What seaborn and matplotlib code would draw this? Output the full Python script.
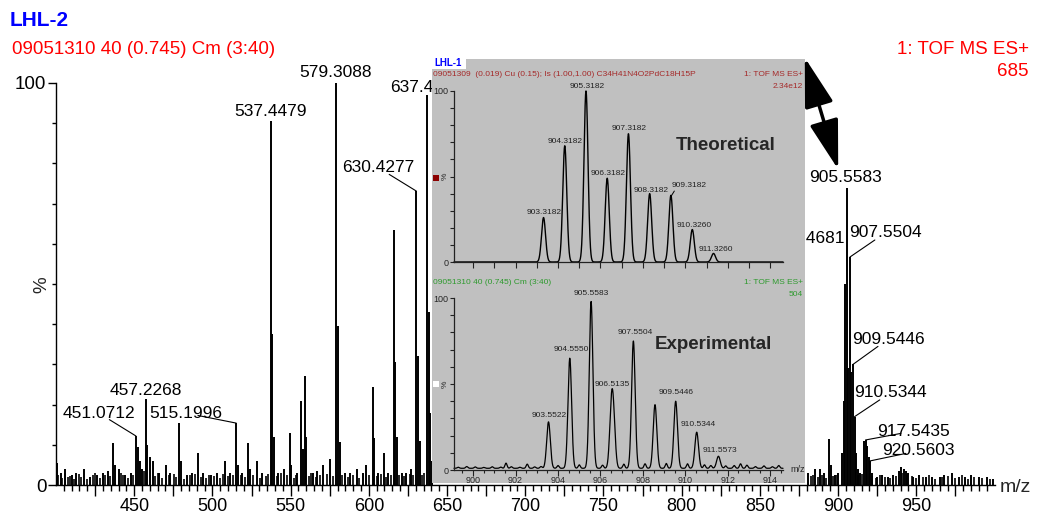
import numpy as np
import pandas as pd
import matplotlib.pyplot as plt
import seaborn as sns
from matplotlib.ticker import MultipleLocator, FixedLocator, FuncFormatter
from matplotlib.patches import Rectangle, FancyArrowPatch

sns.set_theme(style='white')
plt.rcParams['font.family'] = ['Liberation Sans', 'DejaVu Sans']

# ---- main spectrum (LHL-2), stick peaks, % intensity ----
main_mz = [400.5, 403, 406, 410, 413, 418, 422, 426, 430, 433, 436.5, 438, 440, 444, 448,
           451.07, 452.5, 454, 455, 457.23, 458, 460, 462, 466, 470.5, 473, 478.6, 480, 484,
           487, 490.5, 494, 499, 503, 508, 511, 515.2, 516.2, 519, 523, 524, 528.5, 532,
           537.45, 538.4, 539.4, 542, 546, 549.3, 550.3, 554, 556.8, 557.8, 559.1, 560.1,
           564, 567, 571, 575, 579.31, 580.3, 581.3, 585, 588, 592.5, 596, 598, 602.6,
           603.6, 606, 609.5, 612, 615.8, 616.8, 617.8, 621, 624, 627, 630.43, 631.4,
           632.4, 637.4, 638.4, 639.4, 640.4,
           881, 885, 888.5, 891, 894.3, 895.3, 898, 900, 902.5, 903.5, 904.5, 905.56, 906.5,
           907.55, 908.5, 909.54, 910.53, 911.5, 912.5, 914, 916.5, 917.54, 918.5, 919.5,
           920.56, 922, 925, 928, 932, 935, 939, 940.5, 942, 943.5, 945, 948, 952, 956,
           960, 965, 968, 973, 977, 981, 985, 990, 995, 999]
main_int = [5.5, 3, 4, 2.5, 3, 4, 2, 2.5, 3, 3.5, 10.5, 5, 4, 2.5, 3,
            12.2, 9.5, 6, 4, 21.4, 10, 7, 6, 3, 5, 3, 15.4, 6, 2.5,
            3, 8, 3, 2.5, 3, 6, 3, 15.4, 5, 3, 10.5, 4, 6, 3,
            90.5, 37.5, 12, 3, 4, 13, 5, 3, 21, 9, 27, 12,
            3, 3.5, 5, 6.5, 100, 39.5, 10.7, 3, 3, 4, 3, 5, 24.5,
            11.7, 3, 8, 3, 63.4, 30.6, 12, 3, 3, 4, 73.1, 32,
            11, 97, 43, 18, 6,
            3, 4, 4, 3, 11.4, 5, 2.5, 3, 8, 21, 50, 74, 29,
            56.7, 28, 30, 17, 8, 4, 3, 11, 11.2, 9.7, 7,
            6, 3, 2, 2.5, 2, 2.5, 3.5, 4.5, 4, 3.5, 3, 2, 2.5, 2,
            2, 2, 2.5, 3, 2, 2, 2.5, 2, 2, 1.5]

# low-level grass along the baseline
grass_mz = [401.5, 404, 405.5, 407.5, 409, 411.5, 414.5, 416, 420, 423.5, 425, 428, 431.5,
            434.5, 441.5, 443, 446, 449, 456, 463.5, 465, 468, 472, 475.5, 477, 482, 485.5,
            489, 492.5, 496, 497.5, 501, 505, 506.5, 510, 513, 518, 521, 526, 530.5, 534,
            535.5, 541, 544, 547.5, 552, 553.5, 562, 563, 566, 569, 573, 577, 583, 587, 590,
            594, 600, 605, 608, 611, 614, 619, 622.5, 626, 628.5, 634, 635,
            882.5, 884, 887, 890, 892.5, 897, 899, 913, 915, 921.5, 924, 927, 930, 933.5, 937,
            941, 944, 947, 950, 954, 958, 962, 966.5, 970, 975, 979, 983, 987, 992, 997]
grass_int = [2.5, 1.8, 3, 2, 2.2, 1.5, 2.8, 2, 1.6, 2.4, 3, 1.8, 2.6,
             2.2, 3, 2.4, 1.8, 2.6, 3.5, 2.2, 3, 1.8, 2.4, 2.8, 2, 1.6, 2.4,
             2.8, 2, 1.8, 2.6, 2.2, 1.8, 2.8, 2.2, 2.4, 2.6, 2, 2.4, 1.8, 2.2,
             2.8, 2.2, 3, 2.4, 1.8, 2.6, 2.2, 3, 2, 2.4, 2.8, 2.2, 2.6, 2, 2.4,
             1.8, 2.6, 2.2, 2.8, 2, 2.4, 2.6, 2.2, 2.8, 2.4, 2.6, 3,
             2.2, 2.6, 2, 2.4, 1.8, 2.2, 2.6, 2.4, 2.8, 2.2, 1.8, 2.4, 2, 1.8, 2.2,
             3, 2.6, 2.2, 1.8, 2, 2.4, 1.6, 2, 2.2, 1.8, 2.4, 1.6, 2, 1.8, 1.6]

# main peak labels: text, text (m/z, %), leader end (m/z, %) or None
main_labels = [
    ('579.3088', 578.7, 102.7, None),
    ('537.4479', 537.2, 92.8, None),
    ('637.4353', 613.8, 98.8, None),
    ('630.4277', 606.2, 78.9, (630.43, 73.1)),
    ('457.2268', 457.3, 23.6, None),
    ('451.0712', 427.3, 17.9, (451.07, 12.2)),
    ('515.1996', 482.9, 17.9, (515.2, 15.4)),
    ('905.5583', 904.6, 76.4, None),
    ('906.4681', 904.0, 61.4, None),
    ('907.5504', 930.1, 62.7, (907.55, 56.7)),
    ('909.5446', 932.0, 36.3, (909.54, 30.0)),
    ('910.5344', 933.3, 22.9, (910.53, 17.0)),
    ('917.5435', 948.0, 13.4, (917.54, 11.2)),
    ('920.5603', 951.2, 8.5, (920.56, 6.0)),
]

# ---- inset: theoretical (LHL-1) and experimental isotope patterns ----
theo_mz = [903.3182, 904.3182, 905.3182, 906.3182, 907.3182, 908.3182, 909.3182, 910.3260, 911.3260]
theo_int = [26, 68, 100, 49, 75, 40, 39, 19, 5]
theo_text = [(903.35, 28.7), (904.34, 70.2), (905.38, 102.9), (906.37, 51.5), (907.36, 77.8),
             (908.40, 42.1), (910.19, 45.0), (910.42, 21.1), (911.42, 7.6)]

exp_mz = [903.5522, 904.5550, 905.5583, 906.5135, 906.62, 907.5504, 908.57, 909.5446,
          910.5344, 911.5573]
exp_int = [27, 64, 97, 32, 24, 74, 37, 39, 21, 7]
exp_labels = ['903.5522', '904.5550', '905.5583', '906.5135', '907.5504', '909.5446',
              '910.5344', '911.5573']
exp_text = [(903.58, 31.4), (904.62, 69.8), (905.57, 102.9), (906.56, 49.5), (907.64, 79.7),
            (909.58, 45.0), (910.61, 26.5), (911.65, 11.6)]
exp_baseline = 1.0
noise_mz = [899.3, 899.7, 900.1, 900.5, 900.9, 901.3, 901.55, 901.8, 902.2, 902.55, 902.9,
            903.2, 904.0, 905.0, 906.1, 907.1, 908.1, 909.1, 910.1, 910.9, 911.2, 911.9,
            912.3, 912.6, 912.9, 913.3, 913.7, 914.1, 914.4]
noise_int = [0.6, 1.0, 0.8, 0.5, 0.9, 0.7, 3.0, 0.9, 0.6, 2.4, 0.8, 1.0, 1.6, 2.0, 1.8,
             2.4, 2.6, 2.8, 2.6, 2.0, 1.6, 1.4, 1.6, 2.6, 1.8, 1.0, 1.4, 0.9, 1.6]

W, H = 1037, 514
fig = plt.figure(figsize=(W / 100, H / 100), dpi=100)
fig.patch.set_facecolor('white')

def px(x, y):
    return x / W, 1 - y / H

# ---- main axes ----
ax = fig.add_axes([56 / W, 29 / H, 938.5 / W, 402 / H])
ax.set_facecolor('white')
ax.vlines(grass_mz, 0, grass_int, color='black', lw=1.2)
ax.vlines(main_mz, 0, main_int, color='black', lw=1.4)
ax.set_xlim(400, 1000)
ax.set_ylim(0, 100)
for s in ['top', 'right']:
    ax.spines[s].set_visible(False)
for s in ['left', 'bottom']:
    ax.spines[s].set_color('black')
    ax.spines[s].set_linewidth(1.0)
ax.xaxis.set_major_locator(FixedLocator(np.arange(425, 1000, 25)))
ax.xaxis.set_minor_locator(FixedLocator(np.arange(405, 1000, 5)))
ax.xaxis.set_major_formatter(FuncFormatter(lambda v, p: f'{v:.0f}' if v % 50 == 0 else ''))
ax.set_yticks([0, 100])
ax.yaxis.set_minor_locator(MultipleLocator(10))
ax.tick_params(axis='x', which='major', direction='out', length=8, width=1, colors='black',
               labelsize=13, pad=1.5, bottom=True)
ax.tick_params(axis='x', which='minor', direction='out', length=4, width=1, color='black', bottom=True)
ax.tick_params(axis='y', which='major', direction='out', length=6, width=1, colors='black',
               labelsize=13.5, pad=1, left=True)
ax.tick_params(axis='y', which='minor', direction='out', length=3, width=1, color='black', left=True)
ax.set_xlabel('')
ax.set_ylabel('')

for txt, tx, ty, lead in main_labels:
    ha = 'left' if txt.startswith('637') else ('right' if txt == '906.4681' else 'center')
    ax.text(tx, ty, txt, ha=ha, va='center', fontsize=12.5, color='black', clip_on=False)
    if lead is not None:
        ax.annotate('', xy=lead, xytext=(tx, ty), annotation_clip=False,
                    arrowprops=dict(arrowstyle='-', lw=0.8, color='black', shrinkA=9, shrinkB=0))

fig.text(*px(10, 21), 'LHL-2', color='#0000ff', fontsize=15, fontweight='bold', va='center', ha='left')
fig.text(*px(12, 50), '09051310 40 (0.745) Cm (3:40)', color='#ff0000', fontsize=13.5,
         va='center', ha='left')
fig.text(*px(1029, 50), '1: TOF MS ES+', color='#ff0000', fontsize=13.5, va='center', ha='right')
fig.text(*px(1029, 71), '685', color='#ff0000', fontsize=13.5, va='center', ha='right')
fig.text(*px(42, 285), '%', fontsize=13.5, rotation=90, va='center', ha='center')
fig.text(*px(1015, 487), 'm/z', fontsize=14, va='center', ha='center')

# ---- inset background ----
bg = fig.add_axes([432 / W, 31 / H, 373 / W, 424 / H])
bg.set_facecolor('#c0c0c0')
bg.set_xticks([])
bg.set_yticks([])
for s in bg.spines.values():
    s.set_visible(False)

xgrid = np.linspace(899.1, 914.6, 4000)

def profile(centers, heights, sigma, base=0.0):
    y = np.full_like(xgrid, base)
    for c, h in zip(centers, heights):
        y += h * np.exp(-0.5 * ((xgrid - c) / sigma) ** 2)
    return y

theo_df = pd.DataFrame({'mz': xgrid, 'pct': profile(theo_mz, theo_int, 0.095)})
exp_prof = profile(exp_mz, exp_int, 0.085, exp_baseline) + profile(noise_mz, noise_int, 0.05)
exp_df = pd.DataFrame({'mz': xgrid, 'pct': exp_prof})


def style_inset(a):
    a.set_facecolor('none')
    a.set_xlim(899.1, 914.6)
    a.set_ylim(0, 100)
    for s in ['top', 'right']:
        a.spines[s].set_visible(False)
    for s in ['left', 'bottom']:
        a.spines[s].set_color('#222222')
        a.spines[s].set_linewidth(0.9)
    a.set_yticks([0, 100])
    a.yaxis.set_minor_locator(MultipleLocator(10))
    a.tick_params(axis='y', which='both', direction='out', length=3, width=0.8, color='#222222',
                  labelsize=6.5, pad=1, left=True)
    a.set_xlabel('')
    a.set_ylabel('')
    a.text(898.7, 50, '%', fontsize=6, rotation=90, ha='center', va='center', clip_on=False)


# top: theoretical
ax1 = fig.add_axes([454 / W, 252 / H, 329 / W, 171 / H])
sns.lineplot(data=theo_df, x='mz', y='pct', ax=ax1, color='black', lw=1.0, estimator=None,
             clip_on=False)
style_inset(ax1)
ax1.xaxis.set_major_locator(MultipleLocator(1))
ax1.tick_params(axis='x', which='major', direction='out', length=4, width=0.8, color='#222222',
                bottom=True, labelbottom=False)
for lab, (tx, ty) in zip(theo_mz, theo_text):
    ax1.text(tx, ty, f'{lab:.4f}', fontsize=6, ha='center', va='center', color='#222222',
             clip_on=False)
ax1.plot([909.48, 909.33], [41.5, 38.5], color='black', lw=0.7)
ax1.text(911.9, 68, 'Theoretical', fontsize=13.5, fontweight='bold', ha='center', va='center')

# bottom: experimental
ax2 = fig.add_axes([454 / W, 44 / H, 329 / W, 172 / H])
sns.lineplot(data=exp_df, x='mz', y='pct', ax=ax2, color='black', lw=0.9, estimator=None,
             clip_on=False)
style_inset(ax2)
ax2.xaxis.set_major_locator(MultipleLocator(2))
ax2.xaxis.set_minor_locator(MultipleLocator(0.5))
ax2.xaxis.set_major_formatter(FuncFormatter(lambda v, p: f'{v:.0f}'))
ax2.tick_params(axis='x', which='major', direction='out', length=4, width=0.8, color='#222222',
                labelsize=6.5, pad=0.5, bottom=True)
ax2.tick_params(axis='x', which='minor', direction='out', length=2.5, width=0.8, color='#222222',
                bottom=True)
for lab, (tx, ty) in zip(exp_labels, exp_text):
    ax2.text(tx, ty, lab, fontsize=6, ha='center', va='center', color='#222222', clip_on=False)
ax2.text(915.3, 0, 'm/z', fontsize=6.5, ha='center', va='center', clip_on=False)
ax2.text(911.3, 73, 'Experimental', fontsize=13.5, fontweight='bold', ha='center', va='center')

# inset headers
fig.add_artist(Rectangle(px(432, 69), 34 / W, 11 / H, transform=fig.transFigure,
                         facecolor='white', edgecolor='none', zorder=5))
fig.text(*px(434, 63.5), 'LHL-1', color='#0000ff', fontsize=7, fontweight='bold', va='center',
         ha='left', zorder=6)
fig.text(*px(433, 75), '09051309  (0.019) Cu (0.15); Is (1.00,1.00) C34H41N4O2PdC18H15P',
         color='#a52a2a', fontsize=6, va='center', ha='left', zorder=6)
fig.text(*px(803, 75), '1: TOF MS ES+', color='#a52a2a', fontsize=6, va='center', ha='right', zorder=6)
fig.text(*px(803, 86), '2.34e12', color='#a52a2a', fontsize=6, va='center', ha='right', zorder=6)
fig.text(*px(433, 283), '09051310 40 (0.745) Cm (3:40)', color='#2e9a2e', fontsize=6,
         va='center', ha='left', zorder=6)
fig.text(*px(803, 283), '1: TOF MS ES+', color='#2e9a2e', fontsize=6, va='center', ha='right', zorder=6)
fig.text(*px(803, 294), '504', color='#2e9a2e', fontsize=6, va='center', ha='right', zorder=6)
fig.add_artist(Rectangle(px(433, 181), 6 / W, 6 / H, transform=fig.transFigure,
                         facecolor='#8b0000', edgecolor='none', zorder=5))
fig.add_artist(Rectangle(px(433, 387), 6 / W, 6 / H, transform=fig.transFigure,
                         facecolor='white', edgecolor='none', zorder=5))

# double-headed arrow
fig.add_artist(FancyArrowPatch(px(804, 55), px(839, 172), transform=fig.transFigure,
                               arrowstyle='<|-|>,head_length=1.7,head_width=0.5',
                               mutation_scale=18, lw=2.5, color='black', zorder=7))

fig.savefig('out.png', dpi=100)
